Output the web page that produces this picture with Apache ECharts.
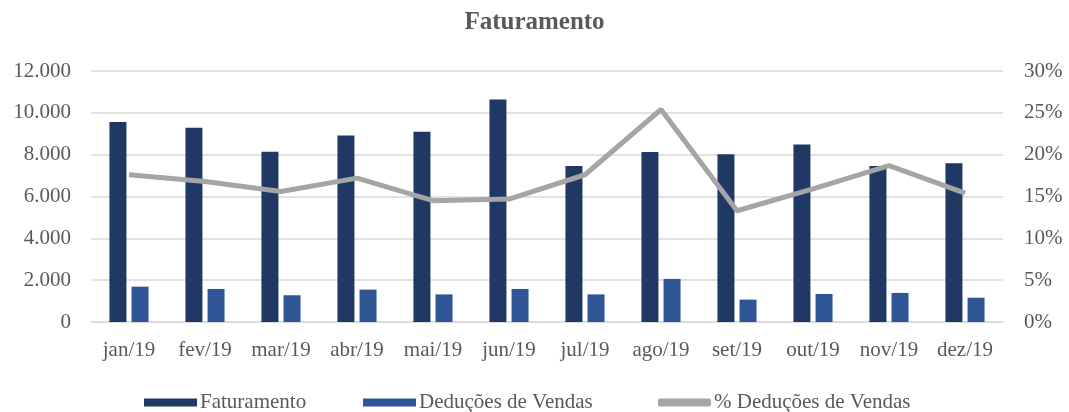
<!DOCTYPE html>
<html>
<head>
<meta charset="utf-8">
<script src="https://cdn.jsdelivr.net/npm/echarts@6/dist/echarts.min.js"></script>
<style>
  html, body { margin: 0; padding: 0; background: #fff; }
  #chart { width: 1069px; height: 412px; }
</style>
</head>
<body>
<div id="chart"></div>
<script>
// dados
const meses = ['jan/19', 'fev/19', 'mar/19', 'abr/19', 'mai/19', 'jun/19',
  'jul/19', 'ago/19', 'set/19', 'out/19', 'nov/19', 'dez/19'];
const faturamento = [9560, 9290, 8140, 8920, 9100, 10640, 7460, 8130, 8020, 8490, 7460, 7590];
const deducoes = [1690, 1580, 1280, 1550, 1320, 1580, 1320, 2060, 1070, 1340, 1390, 1160];
const pctDeducoes = [17.6, 16.8, 15.6, 17.2, 14.5, 14.7, 17.6, 25.4, 13.3, 15.9, 18.7, 15.4];

const fonte = '"Liberation Serif", "DejaVu Serif", serif';
const cinza = '#595959';

const chart = echarts.init(document.getElementById('chart'), null, { renderer: 'canvas' });

// uma legenda por item, para acertar as posições
const legenda = (nome, icone, x) => ({
  top: 387,
  left: x,
  itemWidth: 53,
  itemHeight: 8,
  textStyle: { fontFamily: fonte, fontSize: 21, color: cinza, padding: [0, 0, 0, -2] },
  data: [{ name: nome, icon: icone }]
});

chart.setOption({
  animation: false,
  textStyle: { fontFamily: fonte, color: cinza },
  title: {
    text: 'Faturamento',
    left: 'center',
    top: 5,
    textStyle: { fontFamily: fonte, fontSize: 25, fontWeight: 'bold', color: cinza }
  },
  legend: [
    legenda('Faturamento', 'rect', 139),
    legenda('Deduções de Vendas', 'rect', 358),
    legenda('% Deduções de Vendas', 'roundRect', 653)
  ],
  grid: { left: 91, right: 66, top: 71, bottom: 90 },
  xAxis: {
    type: 'category',
    data: meses,
    axisTick: { show: false },
    axisLine: { lineStyle: { color: '#D9D9D9', width: 1.5 } },
    axisLabel: { fontFamily: fonte, fontSize: 21, color: cinza, margin: 18, interval: 0 }
  },
  yAxis: [
    {
      type: 'value',
      min: 0, max: 12000, interval: 2000,
      axisLabel: {
        fontFamily: fonte, fontSize: 21, color: cinza, margin: 20,
        formatter: v => v === 0 ? '0' : v.toLocaleString('pt-BR')
      },
      splitLine: { lineStyle: { color: '#D9D9D9', width: 1.5 } }
    },
    {
      type: 'value',
      min: 0, max: 30, interval: 5,
      axisLabel: { fontFamily: fonte, fontSize: 21, color: cinza, margin: 21, formatter: '{value}%' },
      splitLine: { show: false }
    }
  ],
  series: [
    {
      name: 'Faturamento',
      type: 'bar',
      data: faturamento,
      barWidth: 17,
      barGap: '30%',
      itemStyle: { color: '#1F3864' }
    },
    {
      name: 'Deduções de Vendas',
      type: 'bar',
      data: deducoes,
      barWidth: 17,
      itemStyle: { color: '#2F5597' }
    },
    {
      name: '% Deduções de Vendas',
      type: 'line',
      yAxisIndex: 1,
      data: pctDeducoes,
      symbol: 'none',
      lineStyle: { color: '#A5A5A5', width: 5 },
      itemStyle: { color: '#A5A5A5' }
    }
  ]
});
</script>
</body>
</html>
